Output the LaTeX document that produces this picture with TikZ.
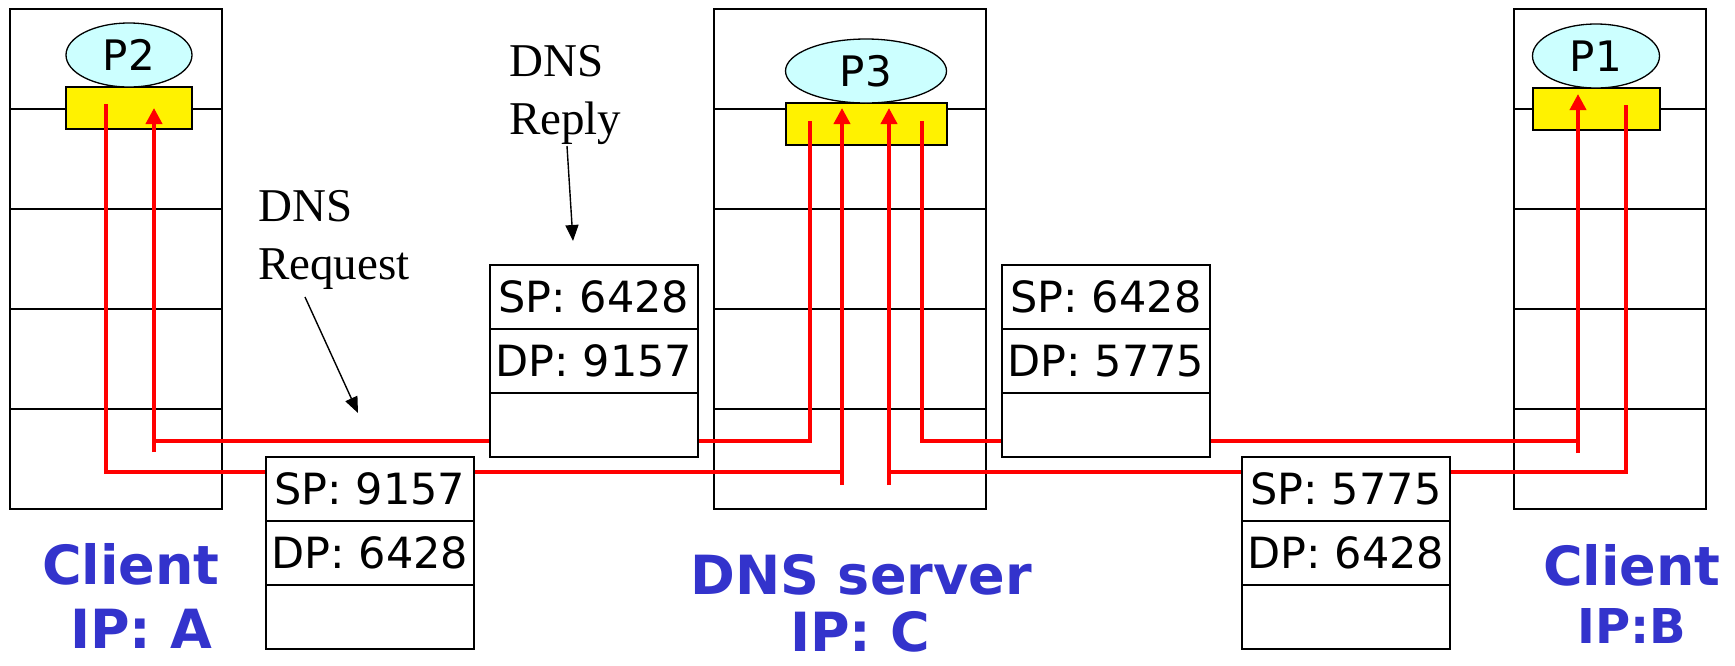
\documentclass[tikz,border=0pt]{standalone}
\usepackage{fontspec}
\newfontfamily\dvs{DejaVu Sans}
\newfontfamily\lserif{Liberation Serif}
\usetikzlibrary{arrows.meta,shapes.geometric,positioning}
\definecolor{lblblue}{RGB}{51,51,204}
\definecolor{proccyan}{RGB}{204,255,255}
\definecolor{redl}{RGB}{255,0,0}
\begin{document}
\begin{tikzpicture}[x=1pt,y=-1pt,
  hostbox/.style={draw, line width=1.8pt, minimum width=#1, minimum height=500pt, anchor=north west, inner sep=0pt, outer sep=0pt},
  divline/.style={line width=1.4pt},
  sock/.style={draw, fill=yellow, line width=1.3pt, minimum height=42pt, anchor=north west, inner sep=0pt, outer sep=0pt},
  proc/.style={ellipse, draw, fill=proccyan, line width=1.3pt, minimum height=64pt, inner sep=0pt, font=\dvs\fontsize{42pt}{48pt}\selectfont},
  redline/.style={draw=redl, line width=3.8pt},
  redarrow/.style={redline, -{Triangle[width=16pt,length=16pt]}},
  pkrow/.style={draw, fill=white, line width=1.8pt, minimum width=208pt, minimum height=64pt, inner sep=0pt, outer sep=0pt, font=\dvs\fontsize{43pt}{50pt}\selectfont},
  lbl/.style={text=lblblue, anchor=base, inner sep=0pt, text depth=0pt, font=\dvs\bfseries\fontsize{54pt}{60pt}\selectfont},
  lblsmall/.style={text=lblblue, anchor=base, inner sep=0pt, text depth=0pt, font=\dvs\bfseries\fontsize{48pt}{54pt}\selectfont},
  note/.style={anchor=base west, inner sep=0pt, font=\lserif\fontsize{47pt}{54pt}\selectfont},
  notearrow/.style={line width=1.4pt, -{Triangle[width=13pt,length=16pt]}}
]
\useasboundingbox (0,0) rectangle (1735,665);

% hosts
\node[hostbox=212pt] (hA) at (10,9) {};
\node[hostbox=272pt] (hC) at (714,9) {};
\node[hostbox=192pt] (hB) at (1514,9) {};
\foreach \h in {hA,hC,hB}{
  \foreach \yy in {109,209,309,409}{
    \draw[divline] (\h.west |- 0,\yy) -- (\h.east |- 0,\yy);
  }
}

% sockets
\node[sock, minimum width=126pt] (yA) at (66,87) {};
\node[sock, minimum width=161pt] (yC) at (786,103) {};
\node[sock, minimum width=127pt] (yB) at (1533,88) {};

% processes
\node[proc, minimum width=126pt] (pA) at (129,55) {P2};
\node[proc, minimum width=161pt] (pC) at (866,71) {P3};
\node[proc, minimum width=127pt] (pB) at (1596,56) {P1};

% red path coordinates
\coordinate (aOutTop) at (106,104);
\coordinate (aOutCorner) at (106,472);
\coordinate (aInTip) at (154,108);
\coordinate (aInBot) at (154,452);
\coordinate (aInJoint) at (154,441);
\coordinate (cIn1Tip) at (842,108);
\coordinate (cIn1Bot) at (842,485);
\coordinate (cIn1Joint) at (842,472);
\coordinate (cOut1Top) at (810,121);
\coordinate (cOut1Corner) at (810,441);
\coordinate (cOut2Top) at (922,121);
\coordinate (cOut2Corner) at (922,441);
\coordinate (cIn2Tip) at (889,108);
\coordinate (cIn2Bot) at (889,485);
\coordinate (cIn2Joint) at (889,472);
\coordinate (bInTip) at (1578,94);
\coordinate (bInBot) at (1578,453);
\coordinate (bInJoint) at (1578,441);
\coordinate (bOutTop) at (1626,105);
\coordinate (bOutCorner) at (1626,472);

% red connectors
\draw[redline] (aOutTop) -- (aOutCorner) -- (cIn1Joint);
\draw[redarrow] (cIn1Bot) -- (cIn1Tip);
\draw[redline] (cOut1Top) -- (cOut1Corner) -- (aInJoint);
\draw[redarrow] (aInBot) -- (aInTip);
\draw[redline] (cOut2Top) -- (cOut2Corner) -- (bInJoint);
\draw[redarrow] (bInBot) -- (bInTip);
\draw[redline] (bOutTop) -- (bOutCorner) -- (cIn2Joint);
\draw[redarrow] (cIn2Bot) -- (cIn2Tip);

% packets
\node[pkrow, anchor=north west] (p1a) at (266,457) {SP: 9157};
\node[pkrow, below=0pt of p1a] (p1b) {DP: 6428};
\node[pkrow, below=0pt of p1b] (p1c) {};

\node[pkrow, anchor=north west] (p2a) at (490,265) {SP: 6428};
\node[pkrow, below=0pt of p2a] (p2b) {DP: 9157};
\node[pkrow, below=0pt of p2b] (p2c) {};

\node[pkrow, anchor=north west] (p3a) at (1002,265) {SP: 6428};
\node[pkrow, below=0pt of p3a] (p3b) {DP: 5775};
\node[pkrow, below=0pt of p3b] (p3c) {};

\node[pkrow, anchor=north west] (p4a) at (1242,457) {SP: 5775};
\node[pkrow, below=0pt of p4a] (p4b) {DP: 6428};
\node[pkrow, below=0pt of p4b] (p4c) {};

% host labels
\node[lbl] (lA1) at (131,584) {Client};
\node[lbl] (lA2) at (141,648) {IP: A};
\node[lbl] (lC1) at (861,594) {DNS server};
\node[lbl] (lC2) at (860,651) {IP: C};
\node[lbl] (lB1) at (1632,585) {Client};
\node[lblsmall] (lB2) at (1632,643) {IP:B};

% notes
\node[note] (req1) at (258,221) {DNS};
\node[note] (req2) at (258,279) {Request};
\node[note] (rep1) at (509,76) {DNS};
\node[note] (rep2) at (509,134) {Reply};
\coordinate (reqStart) at (305,297);
\coordinate (reqTip) at (358,413);
\coordinate (repStart) at (567,146);
\coordinate (repTip) at (573,241);
\draw[notearrow] (reqStart) -- (reqTip);
\draw[notearrow] (repStart) -- (repTip);
\end{tikzpicture}
\end{document}
